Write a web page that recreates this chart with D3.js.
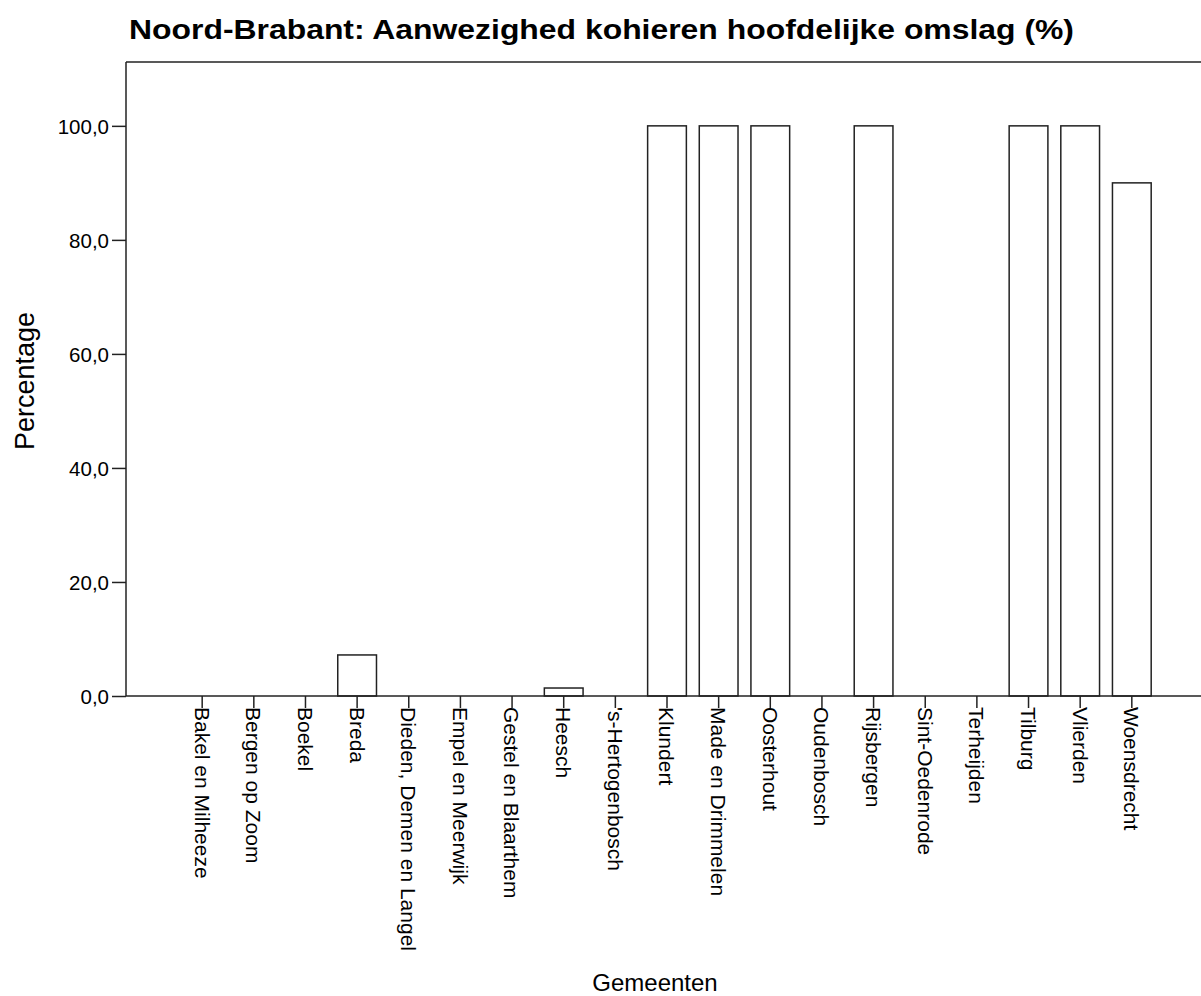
<!DOCTYPE html>
<html><head><meta charset="utf-8">
<script src="https://cdn.jsdelivr.net/npm/d3@7"></script>
<style>body{margin:0;background:#fff}svg{display:block}text{font-family:"Liberation Sans",Arial,sans-serif;fill:#000}</style>
</head><body><svg id="c" width="1201" height="996"></svg>
<script>
const categories = ["Bakel en Milheeze","Bergen op Zoom","Boekel","Breda","Dieden, Demen en Langel","Empel en Meerwijk","Gestel en Blaarthem","Heesch","'s-Hertogenbosch","Klundert","Made en Drimmelen","Oosterhout","Oudenbosch","Rijsbergen","Sint-Oedenrode","Terheijden","Tilburg","Vlierden","Woensdrecht"];
const values = [0,0,0,7.2,0,0,0,1.4,0,100,100,100,0,100,0,0,100,100,90];
const yTicks = [0,20,40,60,80,100];
const title = "Noord-Brabant: Aanwezighed kohieren hoofdelijke omslag (%)";

(function(){
const svg = d3.select("#c");
const pL = 126, pT = 62, pB = 696, pR = 1208;
const x = d3.scaleBand().domain(categories).range([pL, pR]).paddingInner(0.25).paddingOuter(1.1);
const y = d3.scaleLinear().domain([0, 111.2]).range([pB, pT]);
const stroke = "#222";
const ff = "Liberation Sans, Arial, sans-serif";

svg.append("text").attr("x", 129).attr("y", 39).attr("font-size", 28).attr("font-weight", "bold")
  .attr("textLength", 945).attr("lengthAdjust","spacingAndGlyphs").text(title);

svg.append("g").selectAll("rect").data(categories.map((c,i)=>({c,v:values[i]})).filter(d=>d.v>0))
  .join("rect")
  .attr("x", d=>x(d.c)).attr("width", x.bandwidth())
  .attr("y", d=>y(d.v)).attr("height", d=>y(0)-y(d.v))
  .attr("fill","#fff").attr("stroke",stroke).attr("stroke-width",1.5);

svg.append("line").attr("x1",pL).attr("x2",pR).attr("y1",pT).attr("y2",pT).attr("stroke",stroke).attr("stroke-width",1.5);

const ya = svg.append("g").attr("transform",`translate(${pL},0)`)
  .call(d3.axisLeft(y).tickValues(yTicks).tickSize(14).tickSizeOuter(0).tickPadding(3).tickFormat(d=>d3.format(".1f")(d).replace(".",",")));
ya.select(".domain").attr("d",`M0,${pB}V${pT}`).attr("stroke",stroke).attr("stroke-width",1.5);
ya.selectAll(".tick line").attr("stroke",stroke).attr("stroke-width",1.5);
ya.selectAll(".tick text").attr("font-size",20.5).attr("font-family",ff).attr("fill","#000").attr("dy","0.36em");

const xa = svg.append("g").attr("transform",`translate(0,${pB})`)
  .call(d3.axisBottom(x).tickSize(12).tickSizeOuter(0).tickPadding(0));
xa.select(".domain").attr("d",`M${pL},0H${pR}`).attr("stroke",stroke).attr("stroke-width",1.5);
xa.selectAll(".tick line").attr("stroke",stroke).attr("stroke-width",1.5);
xa.selectAll(".tick text")
  .attr("font-size",21).attr("font-family",ff).attr("fill","#000")
  .attr("transform","rotate(90)").attr("x",11).attr("y",0).attr("dy","0.36em").attr("text-anchor","start");

svg.append("text").attr("transform","translate(34,381) rotate(-90)").attr("text-anchor","middle").attr("font-size",27).text("Percentage");
svg.append("text").attr("x",655).attr("y",991).attr("text-anchor","middle").attr("font-size",24).text("Gemeenten");
})();
</script></body></html>
